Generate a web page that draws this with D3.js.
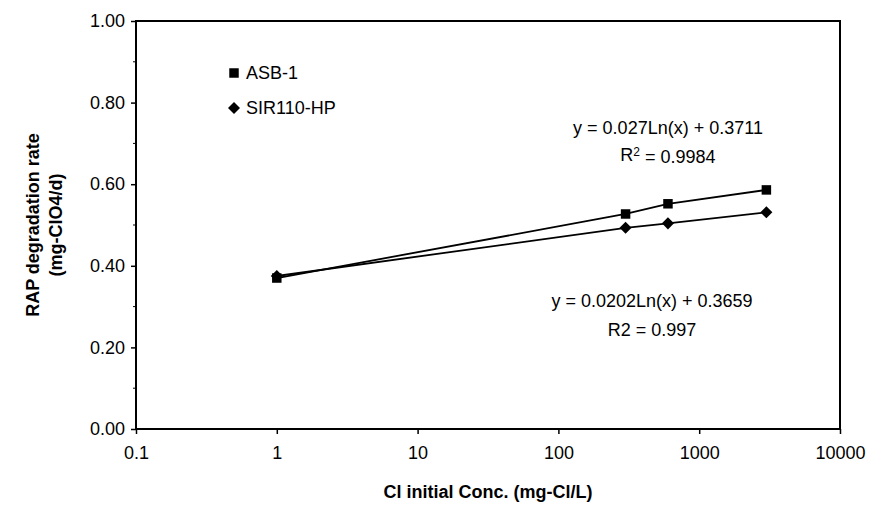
<!DOCTYPE html>
<html>
<head>
<meta charset="utf-8">
<script src="https://cdn.jsdelivr.net/npm/d3@7"></script>
<style>
  body { margin: 0; background: #fff; }
  text { font-family: "Liberation Sans", Arial, sans-serif; fill: #000; }
</style>
</head>
<body>
<div id="chart"></div>
<script>
// data
var concs = [1, 300, 600, 3000];
var asb = [0.37, 0.527, 0.552, 0.586];
var sir = [0.375, 0.493, 0.504, 0.531];
var xTicks = [0.1, 1, 10, 100, 1000, 10000];
var yTicks = [0, 0.2, 0.4, 0.6, 0.8, 1.0];
var yMinor = [0.1, 0.3, 0.5, 0.7, 0.9];

var width = 874, height = 518;
var pLeft = 136, pRight = 840, pTop = 21, pBottom = 429;
var fs = '18px';

var svg = d3.select('#chart')
    .append('svg')
    .attr('width', width)
    .attr('height', height);

var x = d3.scaleLog().domain([0.1, 10000]).range([pLeft, pRight]);
var y = d3.scaleLinear().domain([0, 1]).range([pBottom, pTop]);

// plot frame
svg.append('rect')
    .attr('x', pLeft).attr('y', pTop)
    .attr('width', pRight - pLeft).attr('height', pBottom - pTop)
    .attr('fill', 'none')
    .attr('stroke', '#000')
    .attr('stroke-width', 2);

// y axis
var yAxis = d3.axisLeft(y)
    .tickValues(yTicks)
    .tickFormat(d3.format('.2f'))
    .tickSize(5)
    .tickPadding(6);
var gy = svg.append('g')
    .attr('transform', 'translate(' + pLeft + ',0)')
    .call(yAxis);
gy.select('.domain').remove();
gy.selectAll('line').attr('stroke-width', 1.5);
gy.selectAll('text').style('font-size', fs);

svg.append('g')
    .selectAll('line')
    .data(yMinor)
    .enter()
    .append('line')
    .attr('x1', pLeft - 3)
    .attr('x2', pLeft)
    .attr('y1', function (d) { return y(d); })
    .attr('y2', function (d) { return y(d); })
    .attr('stroke', '#000')
    .attr('stroke-width', 1);

// x axis
var xAxis = d3.axisBottom(x)
    .tickValues(xTicks)
    .tickFormat(function (d) { return String(d); })
    .tickSize(5)
    .tickPadding(12);
var gx = svg.append('g')
    .attr('transform', 'translate(0,' + pBottom + ')')
    .call(xAxis);
gx.select('.domain').remove();
gx.selectAll('line').attr('stroke-width', 1.5);
gx.selectAll('text').style('font-size', fs);

// axis titles
svg.append('text')
    .attr('x', (pLeft + pRight) / 2)
    .attr('y', 498)
    .attr('text-anchor', 'middle')
    .style('font-size', fs)
    .style('font-weight', 'bold')
    .text('Cl initial Conc. (mg-Cl/L)');

var yt = svg.append('text')
    .attr('transform', 'translate(45,' + ((pTop + pBottom) / 2) + ') rotate(-90)')
    .attr('text-anchor', 'middle')
    .style('font-size', fs)
    .style('font-weight', 'bold');
yt.append('tspan').attr('x', 0).attr('dy', '-0.35em').text('RAP degradation rate');
yt.append('tspan').attr('x', 0).attr('dy', '1.3em').text('(mg-ClO4/d)');

// series lines
var line = d3.line()
    .x(function (d, i) { return x(concs[i]); })
    .y(function (d) { return y(d); });

svg.append('path')
    .attr('d', line(asb))
    .attr('fill', 'none')
    .attr('stroke', '#000')
    .attr('stroke-width', 1.8);

svg.append('path')
    .attr('d', line(sir))
    .attr('fill', 'none')
    .attr('stroke', '#000')
    .attr('stroke-width', 1.8);

// markers
var sq = d3.symbol().type(d3.symbolSquare).size(90);
var dm = d3.symbol().type(d3.symbolDiamond2).size(92);

svg.append('g')
    .selectAll('path')
    .data(sir)
    .enter()
    .append('path')
    .attr('d', dm)
    .attr('transform', function (d, i) { return 'translate(' + x(concs[i]) + ',' + y(d) + ')'; })
    .attr('fill', '#000');

svg.append('g')
    .selectAll('path')
    .data(asb)
    .enter()
    .append('path')
    .attr('d', sq)
    .attr('transform', function (d, i) { return 'translate(' + x(concs[i]) + ',' + y(d) + ')'; })
    .attr('fill', '#000');

// legend
svg.append('path').attr('d', sq).attr('transform', 'translate(234,73)').attr('fill', '#000');
svg.append('text').attr('x', 246).attr('y', 79).style('font-size', fs).text('ASB-1');
svg.append('path').attr('d', dm).attr('transform', 'translate(234,108)').attr('fill', '#000');
svg.append('text').attr('x', 246).attr('y', 114).style('font-size', fs).text('SIR110-HP');

// trendline labels
svg.append('text').attr('x', 668).attr('y', 134).attr('text-anchor', 'middle')
    .style('font-size', fs).text('y = 0.027Ln(x) + 0.3711');
var r1 = svg.append('text').attr('x', 668).attr('y', 161).attr('text-anchor', 'middle')
    .style('font-size', fs);
r1.append('tspan').text('R');
r1.append('tspan').attr('dy', '-0.4em').style('font-size', '12px').text('2');
r1.append('tspan').attr('dy', '0.4em').text(' = 0.9984');

svg.append('text').attr('x', 652).attr('y', 307).attr('text-anchor', 'middle')
    .style('font-size', fs).text('y = 0.0202Ln(x) + 0.3659');
svg.append('text').attr('x', 652).attr('y', 336).attr('text-anchor', 'middle')
    .style('font-size', fs).text('R2 = 0.997');
</script>
</body>
</html>
